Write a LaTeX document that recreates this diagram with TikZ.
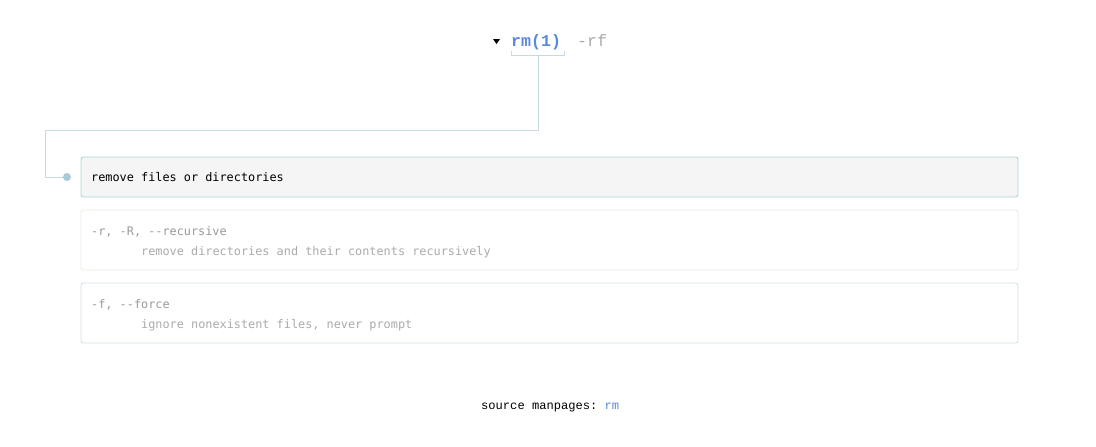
\documentclass[tikz,border=0pt]{standalone}
\usepackage{fontspec}
\setmonofont{Liberation Mono}
\newfontfamily\bodymono{DejaVu Sans Mono}
\begin{document}
\begin{tikzpicture}[x=1pt,y=-1pt,
  conn/.style={draw=linec, line width=1pt},
  mainbox/.style={draw=mainbord, fill=mainfill, rounded corners=2.5pt, line width=0.9pt},
  optbox/.style={rounded corners=2.5pt, line width=0.9pt, fill=white},
  txt/.style={anchor=base west, inner sep=0pt, font=\bodymono\fontsize{11.85}{13}\selectfont}
]
\definecolor{linec}{HTML}{C2DCE0}
\definecolor{dotc}{HTML}{A9CAD8}
\definecolor{mainbord}{HTML}{B0D4D6}
\definecolor{mainfill}{HTML}{F5F5F5}
\definecolor{bord2}{HTML}{E4F0E2}
\definecolor{bord3}{HTML}{CFE2E4}
\definecolor{cmdblue}{HTML}{5A8AD6}
\definecolor{greytxt}{HTML}{ABABAB}
\definecolor{optgrey}{HTML}{9A9A9A}
\useasboundingbox (0,0) rectangle (1096,447);
\fill[white] (0,0) rectangle (1096,447);
% header
\fill[black] (493,39) -- (500,39) -- (496.5,44) -- cycle;
\node[anchor=base west, inner sep=0pt, text=cmdblue, font=\ttfamily\bfseries\fontsize{16.6}{18}\selectfont] (cmd) at (511,46) {rm(1)};
\node[anchor=base west, inner sep=0pt, text=greytxt, font=\ttfamily\fontsize{16.6}{18}\selectfont] (flag) at (577,46) {-rf};
% bracket
\draw[conn] (511.5,50.5) -- (511.5,55.5) -- (564,55.5) -- (564,50.5);
\coordinate (bm) at (538,55.5);
\coordinate (dotp) at (67,177);
% boxes
\path[mainbox] (81,157) rectangle (1018,197);
\node[txt] (desc) at (91,181.5) {remove files or directories};
\path[optbox, draw=bord2] (81,210) rectangle (1018,270);
\node[txt, text=optgrey] (o1) at (91,235) {-r, -R, --recursive};
\node[txt, text=greytxt] (o1d) at (141,255) {remove directories and their contents recursively};
\path[optbox, draw=bord3] (81,283) rectangle (1018,343);
\node[txt, text=optgrey] (o2) at (91,308) {-f, --force};
\node[txt, text=greytxt] (o2d) at (141,328) {ignore nonexistent files, never prompt};
% connector
\draw[conn] (bm) -- (538,130) -- (45,130) -- (45,177) -- (dotp);
\fill[dotc] (dotp) circle (4);
% footer
\node[anchor=base west, inner sep=0pt, font=\ttfamily\fontsize{12.1}{14}\selectfont] (src) at (481,409) {source manpages: \textcolor{cmdblue}{rm}};
\end{tikzpicture}
\end{document}
